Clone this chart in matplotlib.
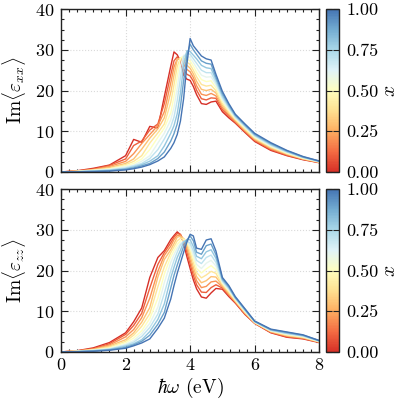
import numpy as np
import matplotlib
matplotlib.use("Agg")
import matplotlib.pyplot as plt
from matplotlib.colors import ListedColormap, Normalize
from matplotlib.cm import ScalarMappable
from matplotlib.ticker import MultipleLocator

#Photon energy grid (eV)
energy = [0.0, 0.5, 1.0, 1.5, 2.0, 2.25, 2.5, 2.75, 3.0, 3.2, 3.4, 3.5, 3.6, 3.7, 3.8, 3.9,
          4.0, 4.1, 4.2, 4.35, 4.5, 4.65, 4.8, 5.0, 5.2, 5.4, 5.7, 6.0, 6.5, 7.0, 7.5, 8.0]
#Composition values
comp = [0.0, 0.1, 0.2, 0.3, 0.4, 0.5, 0.6, 0.7, 0.8, 0.9, 1.0]

#Im<eps_xx> for each composition
xx_00 = [0, 0.3, 0.9, 1.7, 4.0, 8.0, 7.3, 11.2, 10.8, 18.5, 26.0, 29.5, 28.8, 27.2, 23.8, 22.8, 22.5, 21.0, 19.0, 16.8, 16.6, 17.2, 17.4, 14.8, 13.3, 12.0, 9.7, 7.5, 5.3, 4.0, 3.0, 2.3]
xx_01 = [0, 0.25, 0.7, 1.6, 3.2, 6.5, 7.6, 10.3, 11.8, 16.8, 23.9, 27.3, 28.3, 27.3, 25.2, 24.0, 23.6, 22.3, 20.1, 18.0, 17.7, 18.2, 18.1, 15.3, 13.7, 12.2, 9.9, 7.7, 5.5, 4.1, 3.1, 2.3]
xx_02 = [0, 0.22, 0.6, 1.35, 2.6, 4.5, 7.0, 9.2, 11.4, 14.8, 21.9, 25.8, 27.7, 27.9, 26.5, 25.2, 24.6, 23.2, 21.2, 19.1, 18.8, 19.3, 18.7, 15.8, 14.0, 12.4, 10.1, 7.9, 5.7, 4.3, 3.2, 2.4]
xx_03 = [0, 0.18, 0.5, 1.1, 2.1, 3.2, 5.6, 8.3, 10.6, 13.3, 19.6, 23.8, 27.6, 28.0, 27.3, 26.2, 25.5, 24.1, 22.3, 20.3, 20.0, 20.3, 19.4, 16.3, 14.4, 12.7, 10.3, 8.1, 5.9, 4.4, 3.2, 2.4]
xx_04 = [0, 0.15, 0.45, 0.85, 1.8, 2.6, 4.0, 7.1, 9.6, 11.8, 17.1, 21.4, 25.9, 28.0, 28.1, 27.0, 26.4, 25.0, 23.4, 21.5, 21.1, 21.3, 20.0, 16.8, 14.7, 12.9, 10.5, 8.3, 6.1, 4.5, 3.3, 2.5]
xx_05 = [0, 0.12, 0.4, 0.75, 1.55, 2.1, 3.2, 5.5, 8.5, 10.8, 14.5, 18.6, 23.5, 28.0, 28.5, 27.7, 27.3, 26.0, 24.5, 22.7, 22.2, 22.4, 20.7, 17.3, 15.1, 13.1, 10.8, 8.5, 6.3, 4.65, 3.4, 2.5]
xx_06 = [0, 0.1, 0.35, 0.65, 1.3, 1.7, 2.65, 4.0, 7.1, 9.5, 12.8, 15.9, 20.6, 26.0, 28.7, 28.5, 28.1, 26.9, 25.6, 23.8, 23.3, 23.4, 21.4, 17.8, 15.4, 13.3, 11.0, 8.7, 6.4, 4.8, 3.5, 2.5]
xx_07 = [0, 0.08, 0.3, 0.5, 1.0, 1.5, 2.1, 3.3, 5.5, 8.1, 11.1, 13.5, 17.5, 23.1, 28.3, 29.2, 28.9, 27.8, 26.7, 25.0, 24.4, 24.4, 22.0, 18.3, 15.8, 13.5, 11.2, 8.9, 6.6, 4.9, 3.6, 2.6]
xx_08 = [0, 0.05, 0.25, 0.4, 0.8, 1.25, 1.8, 2.65, 4.0, 6.4, 9.5, 11.4, 14.3, 19.4, 26.2, 29.8, 29.6, 28.7, 27.8, 26.2, 25.6, 25.4, 22.7, 18.8, 16.1, 13.8, 11.4, 9.1, 6.8, 5.0, 3.6, 2.6]
xx_09 = [0, 0.03, 0.15, 0.3, 0.65, 1.0, 1.5, 2.1, 3.3, 4.9, 7.6, 9.4, 11.8, 16.1, 22.5, 28.6, 31.4, 30.0, 28.9, 27.3, 26.7, 26.5, 23.3, 19.3, 16.5, 14.0, 11.6, 9.3, 7.0, 5.2, 3.7, 2.7]
xx_10 = [0, 0.02, 0.05, 0.2, 0.5, 0.8, 1.2, 1.8, 2.7, 3.7, 5.8, 7.2, 9.2, 12.5, 18.1, 26.5, 32.8, 31.0, 30.0, 28.5, 27.8, 27.5, 24.0, 19.8, 16.8, 14.2, 11.8, 9.5, 7.2, 5.3, 3.8, 2.7]

#Im<eps_zz> for each composition
zz_00 = [0, 0.3, 1.0, 2.3, 4.7, 7.4, 10.8, 18.3, 23.2, 24.9, 27.6, 28.6, 29.5, 28.8, 26.6, 23.4, 20.5, 17.7, 15.5, 13.5, 13.2, 14.5, 15.6, 15.4, 13.6, 12.0, 9.2, 7.0, 4.7, 3.6, 3.2, 2.3]
zz_01 = [0, 0.25, 0.8, 2.0, 4.3, 6.5, 9.5, 15.7, 21.5, 24.4, 26.8, 28.2, 29.1, 28.9, 27.3, 24.5, 21.6, 18.8, 16.5, 14.7, 14.6, 15.8, 16.5, 15.7, 13.9, 12.2, 9.3, 7.1, 4.8, 3.7, 3.3, 2.4]
zz_02 = [0, 0.22, 0.7, 1.7, 3.7, 5.5, 8.4, 13.2, 19.8, 23.7, 26.0, 27.6, 28.6, 28.7, 27.6, 25.4, 22.6, 19.8, 17.5, 15.8, 16.1, 17.2, 17.4, 16.0, 14.1, 12.3, 9.5, 7.1, 4.9, 3.9, 3.4, 2.4]
zz_03 = [0, 0.2, 0.6, 1.45, 3.0, 4.7, 7.3, 10.9, 18.4, 22.7, 25.1, 26.6, 28.2, 28.4, 27.8, 26.2, 23.6, 20.8, 18.5, 17.0, 17.5, 18.5, 18.4, 16.3, 14.4, 12.5, 9.6, 7.2, 5.0, 4.0, 3.5, 2.5]
zz_04 = [0, 0.17, 0.5, 1.2, 2.6, 4.1, 6.3, 9.4, 16.0, 20.9, 24.4, 25.8, 27.3, 27.9, 27.9, 26.8, 24.6, 21.9, 19.5, 18.2, 18.9, 19.8, 19.3, 16.6, 14.7, 12.6, 9.8, 7.2, 5.1, 4.1, 3.6, 2.5]
zz_05 = [0, 0.15, 0.45, 0.95, 2.3, 3.4, 5.2, 8.2, 13.2, 19.1, 23.4, 24.9, 26.4, 27.3, 27.6, 27.1, 25.4, 22.9, 20.5, 19.4, 20.4, 21.2, 20.2, 16.9, 15.0, 12.8, 9.9, 7.3, 5.2, 4.3, 3.7, 2.6]
zz_06 = [0, 0.12, 0.4, 0.8, 1.9, 2.8, 4.5, 7.0, 11.0, 17.0, 22.0, 23.9, 25.5, 26.7, 27.2, 27.2, 26.0, 23.8, 21.5, 20.5, 21.8, 22.5, 21.1, 17.1, 15.2, 13.0, 10.0, 7.4, 5.2, 4.4, 3.8, 2.6]
zz_07 = [0, 0.1, 0.35, 0.7, 1.65, 2.4, 3.8, 6.0, 9.3, 14.4, 20.0, 22.5, 24.5, 26.3, 27.1, 27.3, 26.7, 24.8, 22.5, 21.7, 23.2, 23.8, 22.0, 17.4, 15.5, 13.1, 10.2, 7.4, 5.3, 4.5, 3.9, 2.7]
zz_08 = [0, 0.08, 0.3, 0.6, 1.4, 2.0, 3.0, 5.0, 8.0, 11.8, 18.2, 20.8, 23.2, 25.0, 27.0, 27.6, 27.6, 25.9, 23.5, 22.9, 24.6, 25.1, 23.0, 17.7, 15.8, 13.3, 10.3, 7.5, 5.4, 4.6, 4.0, 2.7]
zz_09 = [0, 0.06, 0.2, 0.5, 1.1, 1.75, 2.6, 4.1, 6.8, 9.7, 15.7, 18.8, 21.3, 23.7, 25.9, 27.5, 28.5, 27.3, 24.5, 24.0, 26.1, 26.5, 23.9, 18.0, 16.0, 13.4, 10.5, 7.5, 5.5, 4.8, 4.1, 2.8]
zz_10 = [0, 0.05, 0.15, 0.4, 0.9, 1.5, 2.2, 3.2, 5.8, 8.3, 13.0, 16.3, 19.3, 21.9, 24.5, 27.0, 28.9, 28.5, 25.5, 25.2, 27.5, 27.8, 24.8, 18.3, 16.3, 13.6, 10.6, 7.6, 5.6, 4.9, 4.2, 2.8]

xx_curves = [xx_00, xx_01, xx_02, xx_03, xx_04, xx_05, xx_06, xx_07, xx_08, xx_09, xx_10]
zz_curves = [zz_00, zz_01, zz_02, zz_03, zz_04, zz_05, zz_06, zz_07, zz_08, zz_09, zz_10]

#LaTeX-like look
plt.rcParams["font.family"] = "serif"
plt.rcParams["font.serif"] = ["cmr10", "DejaVu Serif"]
plt.rcParams["mathtext.fontset"] = "cm"
plt.rcParams["axes.formatter.use_mathtext"] = True
plt.rcParams["font.size"] = 13

#Red-yellow-blue map without the darkest ends
cmap = ListedColormap(plt.cm.RdYlBu(np.linspace(0.1, 0.9, 256)))
norm = Normalize(vmin=0, vmax=1)

fig = plt.figure(figsize=(3.99, 3.99), dpi=100)
panels = [
    (xx_curves, r"$\mathrm{Im}\langle\varepsilon_{xx}\rangle$", [0.153, 0.569, 0.647, 0.408], [0.817, 0.569, 0.033, 0.408]),
    (zz_curves, r"$\mathrm{Im}\langle\varepsilon_{zz}\rangle$", [0.153, 0.118, 0.647, 0.408], [0.817, 0.118, 0.033, 0.408]),
]

for i, (curves, ylabel, rect, crect) in enumerate(panels):
    ax = fig.add_axes(rect)
    for x, vals in zip(comp, curves):
        ax.plot(energy, vals, color=cmap(norm(x)), lw=1.0)
    ax.set_xlim(0, 8)
    ax.set_ylim(0, 40)
    ax.xaxis.set_major_locator(MultipleLocator(2))
    ax.xaxis.set_minor_locator(MultipleLocator(0.25))
    ax.yaxis.set_major_locator(MultipleLocator(10))
    ax.yaxis.set_minor_locator(MultipleLocator(2.5))
    ax.tick_params(which="both", direction="in", top=True, right=True, width=0.8, color="#222222")
    ax.tick_params(which="major", length=5)
    ax.tick_params(which="minor", length=2.5)
    ax.tick_params(axis="y", which="major", pad=5)
    ax.tick_params(axis="x", which="major", pad=4)
    ax.grid(True, which="major", ls=":", lw=0.8, color="#dadada")
    ax.set_axisbelow(True)
    for s in ax.spines.values():
        s.set_linewidth(1.0)
        s.set_color("#222222")
    ax.set_ylabel(ylabel, fontsize=14, labelpad=5)
    if i == 0:
        ax.set_xticklabels([])
    else:
        ax.set_xlabel(r"$\hbar\omega$ (eV)", fontsize=14, labelpad=2)

    #Colorbar for the composition
    cax = fig.add_axes(crect)
    cb = fig.colorbar(ScalarMappable(norm=norm, cmap=cmap), cax=cax)
    cb.set_ticks([0, 0.25, 0.5, 0.75, 1.0])
    cb.ax.set_yticklabels(["0.00", "0.25", "0.50", "0.75", "1.00"])
    cb.ax.tick_params(direction="in", left=True, right=True, length=4, width=0.8, color="#222222", pad=5)
    cb.outline.set_linewidth(1.0)
    cb.outline.set_edgecolor("#222222")
    cb.set_label(r"$x$", fontsize=14, labelpad=2)

fig.savefig("out.png", dpi=100)
